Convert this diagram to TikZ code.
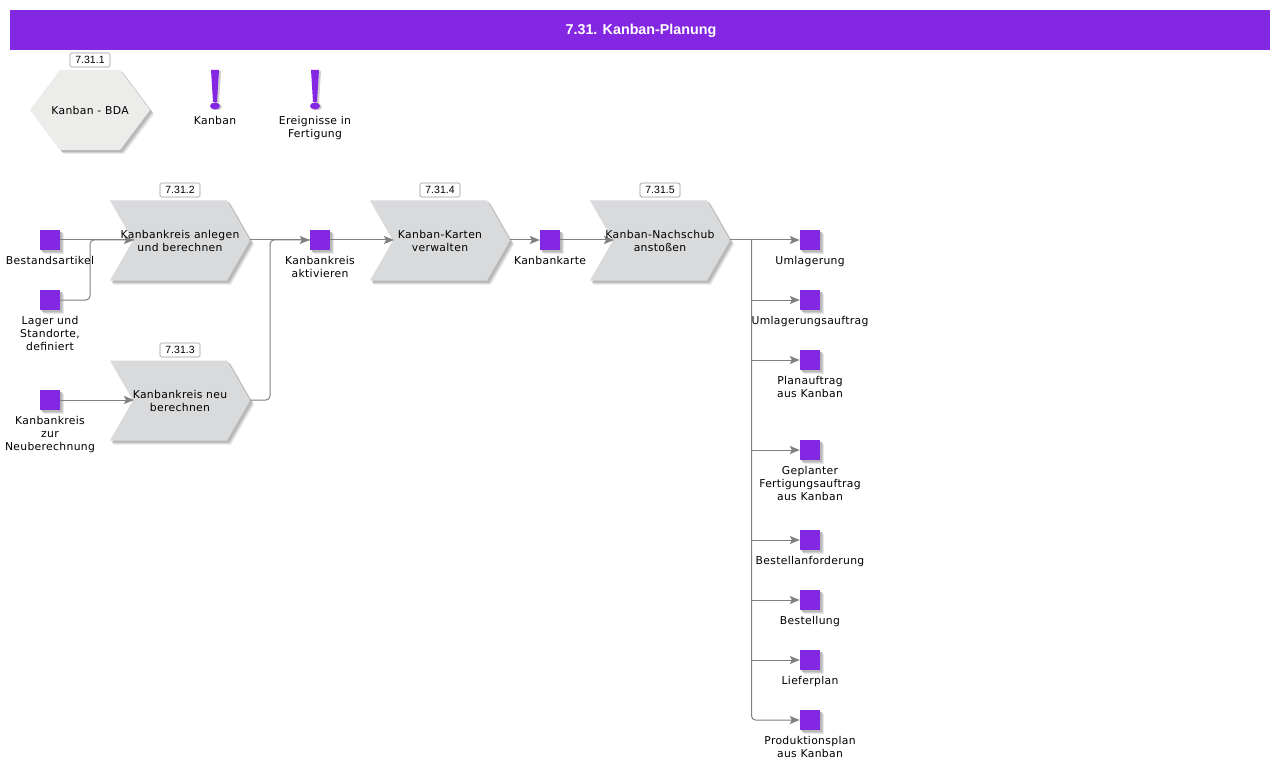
\documentclass[tikz,border=0pt]{standalone}
\usepackage{fontspec}
\setmainfont{DejaVu Sans}
\newfontfamily\titlefont{Liberation Sans}
\newfontfamily\lblfont[LetterSpace=3]{DejaVu Sans}
\usetikzlibrary{arrows.meta}
\definecolor{vio}{HTML}{8427E2}
\definecolor{chevc}{HTML}{D9DADC}
\definecolor{hexc}{HTML}{ECECEA}
\definecolor{shada}{HTML}{B8B8B8}
\definecolor{shad}{HTML}{CFCFCF}
\definecolor{shadb}{HTML}{E8E8E8}
\definecolor{conn}{HTML}{808080}
\pgfdeclarelayer{shapes}
\pgfdeclarelayer{wires}
\pgfsetlayers{shapes,wires,main}
\tikzset{
  x=1pt,y=-1pt,
  lbl/.style={font=\lblfont\fontsize{10.8}{13}\selectfont,align=center,inner sep=0pt,text=black},
  sqr/.style={rectangle,fill=vio,minimum size=20pt,inner sep=0pt},
  tag/.style={draw=black!40,rounded corners=1.5pt,fill=white,line width=.7pt,minimum width=40pt,minimum height=14pt,inner sep=0pt,font=\titlefont\fontsize{10.5}{11}\selectfont},
  wire/.style={draw=conn,line width=1pt,rounded corners=4pt},
  arr/.style={wire,-{Stealth[length=10pt,width=8pt,inset=2pt,fill=conn]}},
  box/.style={lbl,minimum width=140pt,minimum height=80pt}
}
% \softshadow{path}: three stacked offsets give a soft edge
\newcommand{\softshadow}[1]{%
  \fill[shadb,shift={(4,4)}] #1;
  \fill[shad,shift={(3,3)}] #1;
  \fill[shada,shift={(2,2)}] #1;
}
% \chev{name}{center x}{center y}{text}
\newcommand{\chev}[4]{%
  \begin{pgfonlayer}{shapes}
    \begin{scope}[shift={(#2,#3)}]
    \softshadow{(-70,-40)--(47,-40)--(70,0)--(47,40)--(-70,40)--(-47,0)--cycle}
    \fill[chevc] (-70,-40)--(47,-40)--(70,0)--(47,40)--(-70,40)--(-47,0)--cycle;
    \end{scope}
  \end{pgfonlayer}
  \node[box] (#1) at (#2,#3) {#4};
  \coordinate (#1in) at (#2-46,#3);
}
% \obj{name}{x}{y}{text}
\newcommand{\obj}[4]{%
  \begin{pgfonlayer}{shapes}
    \begin{scope}[shift={(#2,#3)}]
    \softshadow{(-10,-10) rectangle (10,10)}
    \end{scope}
  \end{pgfonlayer}
  \node[sqr] (#1) at (#2,#3) {};
  \node[lbl,anchor=north] (#1t) at (#2,#3+16) {#4};
}
% \excl{name}{x}{text}
\newcommand{\excl}[3]{%
  \begin{pgfonlayer}{shapes}
    \begin{scope}[shift={(#2,0)}]
    \fill[shad,shift={(2,1)}] (-4,70)--(4,70)--(2,102)--(-2,102)--cycle;
    \fill[shad] (2,107) ellipse[x radius=5,y radius=3.5];
    \fill[vio] (-4,70)--(4,70)--(2,102)--(-2,102)--cycle;
    \fill[vio] (0,106) ellipse[x radius=5,y radius=3.5];
    \end{scope}
  \end{pgfonlayer}
  \node[lbl,anchor=north] (#1) at (#2,116) {#3};
}
\begin{document}
\begin{tikzpicture}
\useasboundingbox (0,0) rectangle (1280,770);
\begin{pgfonlayer}{shapes}
\fill[white] (0,0) rectangle (1280,770);
\fill[vio] (10,10) rectangle (1270,50);
\softshadow{(60,70)--(120,70)--(150,110)--(120,150)--(60,150)--(30,110)--cycle}
\fill[hexc] (60,70)--(120,70)--(150,110)--(120,150)--(60,150)--(30,110)--cycle;
\end{pgfonlayer}
\node[inner sep=0pt,text=white,font=\titlefont\bfseries\fontsize{14.3}{16}\selectfont] (title) at (641,30.5) {7.31. Kanban-Planung};
\node[lbl] (hex) at (90,110) {Kanban - BDA};
\node[tag] (t1) at (90,60) {7.31.1};
\excl{e1}{215}{Kanban}
\excl{e2}{315}{Ereignisse in\\Fertigung}
% process steps
\chev{a}{180}{240.5}{Kanbankreis anlegen\\und berechnen}
\chev{b}{180}{400.5}{Kanbankreis neu\\berechnen}
\chev{c}{440}{240.5}{Kanban-Karten\\verwalten}
\chev{d}{660}{240.5}{Kanban-Nachschub\\anstoßen}
\node[tag] (t2) at (180,190) {7.31.2};
\node[tag] (t3) at (180,350) {7.31.3};
\node[tag] (t4) at (440,190) {7.31.4};
\node[tag] (t5) at (660,190) {7.31.5};
% objects
\obj{o1}{50}{240}{Bestandsartikel}
\obj{o2}{50}{300}{Lager und\\Standorte,\\definiert}
\obj{o3}{50}{400}{Kanbankreis\\zur\\Neuberechnung}
\obj{o4}{320}{240}{Kanbankreis\\aktivieren}
\obj{o5}{550}{240}{Kanbankarte}
\obj{r1}{810}{240}{Umlagerung}
\obj{r2}{810}{300}{Umlagerungsauftrag}
\obj{r3}{810}{360}{Planauftrag\\aus Kanban}
\obj{r4}{810}{450}{Geplanter\\Fertigungsauftrag\\aus Kanban}
\obj{r5}{810}{540}{Bestellanforderung}
\obj{r6}{810}{600}{Bestellung}
\obj{r7}{810}{660}{Lieferplan}
\obj{r8}{810}{720}{Produktionsplan\\aus Kanban}
\coordinate (jl) at (90,240);
\coordinate (jm) at (270,240);
\coordinate (jr) at (751.5,240);
% connectors
\begin{pgfonlayer}{wires}
\draw[arr] (o1.east) -- (ain |- o1.east);
\draw[wire] (o2.east) -| (jl) -- (ain |- jl);
\draw[arr] (o3.east) -- (bin |- o3.east);
\draw[arr] (a.east |- o4.west) -- (o4.west);
\draw[wire] (b.east |- o3.east) -| (jm) -- (o4.west);
\draw[arr] (o4.east) -- (cin |- o4.east);
\draw[arr] (c.east |- o5.west) -- (o5.west);
\draw[arr] (o5.east) -- (din |- o5.east);
\draw[arr] (d.east |- r1.west) -- (r1.west);
\foreach \t in {r2,r3,r4,r5,r6,r7} {
  \draw[arr,rounded corners=0pt] (jr |- \t.west) -- (\t.west);
}
\draw[arr] (jr) |- (r8.west);
\end{pgfonlayer}
\end{tikzpicture}
\end{document}
